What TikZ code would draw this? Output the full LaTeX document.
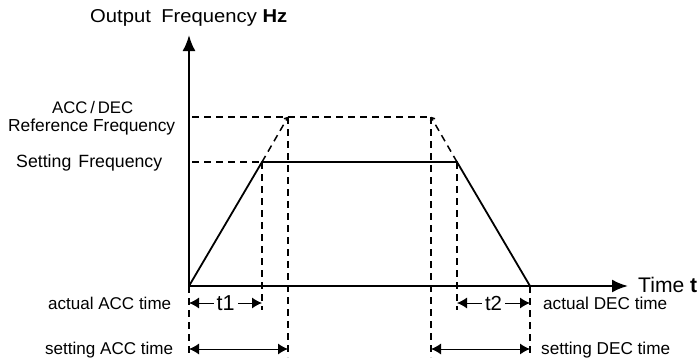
\documentclass[tikz,border=0pt]{standalone}
\usepackage{fontspec}
\usepackage{graphicx}
\setmainfont{Liberation Sans}
\usetikzlibrary{arrows.meta}
\newcommand{\fitw}[2]{\resizebox{#1}{!}{#2}}
\begin{document}
\begin{tikzpicture}[x=1pt,y=-1pt,
  lbl/.style={inner sep=0pt,font=\fontsize{16.5}{19}\selectfont},
  axisline/.style={line width=2.3pt,-{Latex[length=16pt,width=13pt]}},
  curve/.style={line width=1.8pt},
  guide/.style={line width=1.5pt,dash pattern=on 7pt off 5pt},
  dimline/.style={line width=1pt,{Latex[length=10pt,width=11pt]}-{Latex[length=10pt,width=11pt]}},
  reftip/.style={-{To[length=4pt,width=6pt]}}]
\useasboundingbox (0,0) rectangle (699,359);
% key points
\coordinate (O) at (189,286);
\coordinate (Ytop) at (189,35);
\coordinate (Xend) at (628,286);
\coordinate (A) at (262,162);   % reach setting freq
\coordinate (B) at (288,117);   % ACC reference apex
\coordinate (C) at (431,117);   % DEC reference apex
\coordinate (D) at (457,162);   % start of deceleration
\coordinate (E) at (530,286);   % stop
% axes
\draw[axisline] (O) -- (Ytop);
\draw[axisline] (O) -- (Xend);
% horizontal guides
\draw[guide] (192,162) -- (A);
\draw[guide] (192,117) -- (C);
% ramp extensions
\draw[guide,reftip] (A) -- (B);
\draw[guide,reftip] (D) -- (C);
% vertical guides
\draw[guide] (A) -- (262,310);
\draw[guide] (B) -- (288,357);
\draw[guide] (C) -- (431,357);
\draw[guide] (D) -- (457,310);
\draw[guide] (E) -- (530,357);
\draw[guide] (O) -- (189,357);
% frequency curve
\draw[curve] (O) -- (A) -- (D) -- (E);
% dimension arrows
\coordinate (t1a) at (189,303); \coordinate (t1b) at (262,303);
\coordinate (s1a) at (189,349); \coordinate (s1b) at (288,349);
\coordinate (t2a) at (457,303); \coordinate (t2b) at (530,303);
\coordinate (s2a) at (431,349); \coordinate (s2b) at (530,349);
\draw[dimline] (t1a) -- node[lbl,fill=white,inner xsep=3pt,inner ysep=2pt] (t1) {\fitw{18pt}{t1}} (t1b);
\draw[dimline] (s1a) -- (s1b);
\draw[dimline] (t2a) -- node[lbl,fill=white,inner xsep=3pt,inner ysep=2pt] (t2) {\fitw{17pt}{t2}} (t2b);
\draw[dimline] (s2a) -- (s2b);
% texts
\node[lbl,anchor=base west] (title) at (90,22) {\resizebox{197pt}{13pt}{Output\hspace{4pt} Frequency \textbf{Hz}}};
\node[lbl,anchor=base west] (accdec) at (52,113) {\fitw{81pt}{ACC\,/\,DEC}};
\node[lbl,anchor=base west] (reffreq) at (8,131) {\fitw{167pt}{Reference Frequency}};
\node[lbl,anchor=base west] (setfreq) at (16,167) {\fitw{146pt}{Setting\hspace{2pt} Frequency}};
\node[lbl,anchor=base west] (time) at (638,292) {\fitw{59pt}{Time \textbf{t}}};
\node[lbl,anchor=base west] (aacc) at (48,309) {\fitw{123pt}{actual ACC time}};
\node[lbl,anchor=base west] (sacc) at (45,354) {\fitw{128pt}{setting ACC time}};
\node[lbl,anchor=base west] (adec) at (543,309) {\fitw{124pt}{actual DEC time}};
\node[lbl,anchor=base west] (sdec) at (541,354) {\fitw{129pt}{setting DEC time}};
\end{tikzpicture}
\end{document}
